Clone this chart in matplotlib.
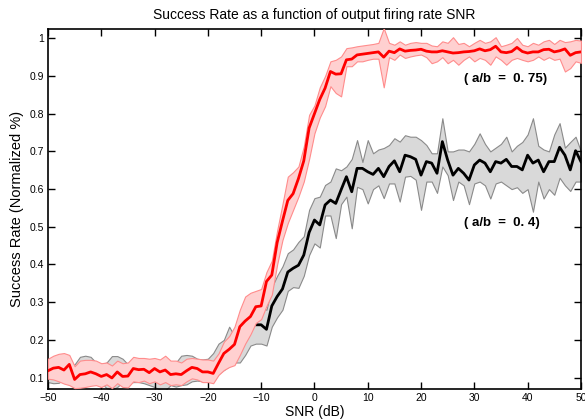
import numpy as np
import matplotlib
matplotlib.use("Agg")
import matplotlib.pyplot as plt

# SNR axis, one point per dB
snr = list(range(-50, 51))

red_mean = [
    0.118, 0.125, 0.127, 0.120, 0.135, 0.095, 0.108, 0.110, 0.115, 0.110,
    0.103, 0.108, 0.099, 0.115, 0.103, 0.104, 0.124, 0.121, 0.122, 0.113,
    0.124, 0.115, 0.120, 0.108, 0.110, 0.108, 0.118, 0.127, 0.124, 0.115,
    0.115, 0.111, 0.138, 0.164, 0.175, 0.188, 0.235, 0.250, 0.262, 0.288,
    0.290, 0.355, 0.372, 0.458, 0.515, 0.570, 0.588, 0.628, 0.675, 0.762,
    0.800, 0.838, 0.868, 0.912, 0.905, 0.906, 0.943, 0.945, 0.956, 0.958,
    0.960, 0.962, 0.964, 0.950, 0.966, 0.962, 0.972, 0.966, 0.968, 0.969,
    0.971, 0.966, 0.964, 0.964, 0.967, 0.964, 0.961, 0.962, 0.964, 0.965,
    0.967, 0.972, 0.967, 0.970, 0.979, 0.964, 0.962, 0.965, 0.976, 0.965,
    0.961, 0.964, 0.964, 0.970, 0.971, 0.964, 0.967, 0.972, 0.955, 0.962,
    0.964]
red_upper = [
    0.150, 0.158, 0.163, 0.165, 0.160, 0.130, 0.145, 0.147, 0.147, 0.145,
    0.138, 0.140, 0.132, 0.145, 0.138, 0.140, 0.155, 0.152, 0.152, 0.150,
    0.152, 0.148, 0.158, 0.145, 0.145, 0.140, 0.150, 0.152, 0.150, 0.148,
    0.148, 0.145, 0.164, 0.195, 0.210, 0.235, 0.280, 0.315, 0.325, 0.330,
    0.335, 0.380, 0.410, 0.490, 0.560, 0.633, 0.645, 0.660, 0.713, 0.797,
    0.822, 0.870, 0.900, 0.939, 0.943, 0.952, 0.974, 0.976, 0.979, 0.981,
    0.983, 0.985, 0.988, 1.027, 0.988, 0.983, 0.992, 0.983, 0.988, 0.990,
    0.988, 0.988, 0.981, 0.979, 0.992, 0.988, 1.003, 0.985, 0.988, 0.979,
    0.988, 0.996, 0.988, 0.992, 1.003, 0.979, 0.983, 0.988, 1.001, 0.983,
    0.979, 0.988, 0.983, 0.992, 0.996, 0.985, 0.996, 0.990, 0.992, 0.996,
    0.994]
red_lower = [
    0.097, 0.095, 0.090, 0.084, 0.080, 0.072, 0.073, 0.075, 0.078, 0.080,
    0.075, 0.082, 0.072, 0.085, 0.075, 0.074, 0.090, 0.088, 0.092, 0.085,
    0.090, 0.082, 0.088, 0.080, 0.082, 0.080, 0.090, 0.098, 0.095, 0.088,
    0.088, 0.085, 0.107, 0.120, 0.128, 0.133, 0.160, 0.190, 0.215, 0.245,
    0.255, 0.290, 0.320, 0.400, 0.465, 0.510, 0.545, 0.580, 0.620, 0.680,
    0.748, 0.790, 0.820, 0.873, 0.855, 0.846, 0.926, 0.926, 0.939, 0.939,
    0.943, 0.946, 0.946, 0.870, 0.950, 0.943, 0.957, 0.948, 0.952, 0.955,
    0.957, 0.950, 0.934, 0.939, 0.950, 0.934, 0.943, 0.930, 0.943, 0.952,
    0.939, 0.948, 0.943, 0.930, 0.952, 0.943, 0.930, 0.943, 0.948, 0.943,
    0.939, 0.943, 0.952, 0.943, 0.950, 0.943, 0.946, 0.912, 0.921, 0.939,
    0.935]

black_mean = [
    0.115, 0.118, 0.120, 0.115, 0.113, 0.110, 0.120, 0.122, 0.120, 0.115,
    0.112, 0.105, 0.110, 0.118, 0.115, 0.110, 0.115, 0.115, 0.112, 0.108,
    0.110, 0.105, 0.100, 0.110, 0.105, 0.110, 0.120, 0.125, 0.120, 0.118,
    0.120, 0.130, 0.140, 0.150, 0.175, 0.170, 0.190, 0.215, 0.240, 0.240,
    0.240, 0.228, 0.290, 0.315, 0.335, 0.380, 0.390, 0.398, 0.425, 0.485,
    0.518, 0.505, 0.558, 0.571, 0.562, 0.598, 0.633, 0.593, 0.655, 0.655,
    0.646, 0.639, 0.655, 0.633, 0.660, 0.675, 0.646, 0.690, 0.686, 0.679,
    0.637, 0.673, 0.669, 0.642, 0.726, 0.677, 0.637, 0.655, 0.642, 0.624,
    0.664, 0.677, 0.669, 0.646, 0.673, 0.669, 0.679, 0.660, 0.660, 0.651,
    0.690, 0.669, 0.677, 0.646, 0.673, 0.673, 0.711, 0.690, 0.651, 0.702,
    0.673]
black_upper = [
    0.140, 0.140, 0.145, 0.140, 0.135, 0.135, 0.155, 0.158, 0.155, 0.140,
    0.135, 0.140, 0.157, 0.157, 0.150, 0.135, 0.140, 0.140, 0.145, 0.140,
    0.140, 0.135, 0.130, 0.135, 0.140, 0.158, 0.160, 0.158, 0.150, 0.148,
    0.150, 0.165, 0.190, 0.200, 0.235, 0.210, 0.220, 0.250, 0.275, 0.280,
    0.285, 0.280, 0.340, 0.370, 0.395, 0.430, 0.440, 0.460, 0.475, 0.545,
    0.576, 0.580, 0.611, 0.620, 0.655, 0.650, 0.660, 0.680, 0.730, 0.672,
    0.730, 0.695, 0.705, 0.709, 0.717, 0.735, 0.726, 0.743, 0.739, 0.739,
    0.730, 0.717, 0.695, 0.695, 0.788, 0.700, 0.700, 0.705, 0.705, 0.700,
    0.720, 0.748, 0.720, 0.700, 0.710, 0.720, 0.739, 0.700, 0.715, 0.725,
    0.745, 0.788, 0.715, 0.705, 0.700, 0.745, 0.775, 0.710, 0.725, 0.739,
    0.700]
black_lower = [
    0.088, 0.085, 0.086, 0.095, 0.090, 0.085, 0.090, 0.090, 0.090, 0.088,
    0.085, 0.072, 0.068, 0.075, 0.088, 0.085, 0.088, 0.088, 0.085, 0.080,
    0.075, 0.068, 0.066, 0.080, 0.076, 0.080, 0.082, 0.090, 0.092, 0.090,
    0.090, 0.100, 0.110, 0.120, 0.130, 0.140, 0.140, 0.160, 0.185, 0.190,
    0.190, 0.185, 0.235, 0.260, 0.280, 0.330, 0.340, 0.338, 0.370, 0.425,
    0.456, 0.445, 0.530, 0.530, 0.470, 0.560, 0.580, 0.496, 0.606, 0.600,
    0.562, 0.600, 0.610, 0.576, 0.615, 0.615, 0.567, 0.633, 0.635, 0.625,
    0.545, 0.620, 0.620, 0.590, 0.660, 0.637, 0.571, 0.620, 0.610, 0.560,
    0.615, 0.620, 0.610, 0.575, 0.615, 0.620, 0.610, 0.600, 0.605, 0.590,
    0.600, 0.540, 0.620, 0.575, 0.600, 0.585, 0.630, 0.610, 0.595, 0.620,
    0.620]

y_ticks = [0.1, 0.2, 0.3, 0.4, 0.5, 0.6, 0.7, 0.8, 0.9, 1.0]
y_tick_labels = ["0.1", "0.2", "0.3", "0.4", "0.5", "0.6", "0.7", "0.8", "0.9", "1"]
x_ticks = [-50, -40, -30, -20, -10, 0, 10, 20, 30, 40, 50]

plt.rcParams['font.family'] = ['Liberation Sans', 'DejaVu Sans']

fig = plt.figure(figsize=(5.85, 4.19), dpi=100)
ax = fig.add_axes([0.082, 0.071, 0.911, 0.860])

# a/b = 0.4 (grey band + black mean), drawn first
ax.fill_between(snr, black_lower, black_upper, facecolor="#d9d9d9",
                edgecolor="#8a8a8a", linewidth=0.8, zorder=1)
ax.plot(snr, black_mean, color="black", linewidth=2, zorder=2)

# a/b = 0.75 (pink band + red mean)
ax.fill_between(snr, red_lower, red_upper, facecolor="#ffd0d0",
                edgecolor="#ff8c8c", linewidth=0.8, zorder=3)
ax.plot(snr, red_mean, color="red", linewidth=2, zorder=4)

ax.text(35.9, 0.892, "( a/b  =  0. 75)", fontsize=9.5, fontweight="bold",
        ha="center", va="center", zorder=5)
ax.text(35.1, 0.511, "( a/b  =  0. 4)", fontsize=9.5, fontweight="bold",
        ha="center", va="center", zorder=5)

ax.set_xlim(-50, 50)
ax.set_ylim(0.069, 1.025)
ax.set_xticks(x_ticks)
ax.set_xticklabels(["\u2212" + str(-t) if t < 0 else str(t) for t in x_ticks])
ax.set_yticks(y_ticks)
ax.set_yticklabels(y_tick_labels)
ax.tick_params(direction="in", length=5, width=1, top=True, right=True,
               labelsize=7.5, pad=3)
for s in ax.spines.values():
    s.set_linewidth(1.2)

ax.set_title("Success Rate as a function of output firing rate SNR", fontsize=10, pad=7)
ax.set_xlabel("SNR (dB)", fontsize=10, labelpad=1)
ax.set_ylabel("Success Rate (Normalized %)", fontsize=10.5, labelpad=4)

fig.savefig("out.png", dpi=100)
